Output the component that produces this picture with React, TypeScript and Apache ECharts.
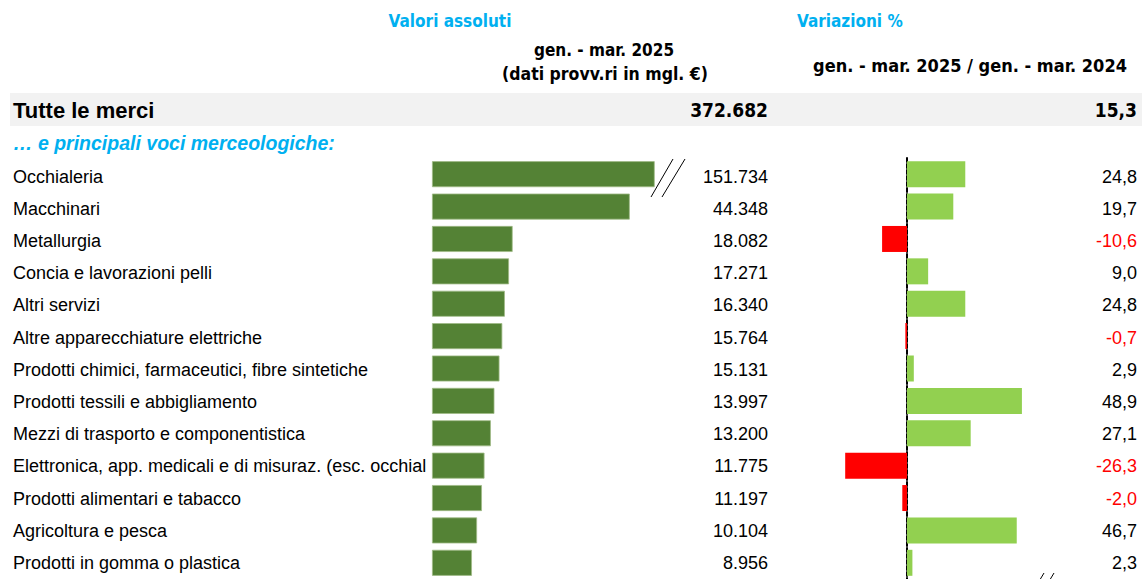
import React, { useEffect, useRef } from "react";
import * as echarts from "echarts";

const categories = [
  "Occhialeria",
  "Macchinari",
  "Metallurgia",
  "Concia e lavorazioni pelli",
  "Altri servizi",
  "Altre apparecchiature elettriche",
  "Prodotti chimici, farmaceutici, fibre sintetiche",
  "Prodotti tessili e abbigliamento",
  "Mezzi di trasporto e componentistica",
  "Elettronica, app. medicali e di misuraz. (esc. occhiali)",
  "Prodotti alimentari e tabacco",
  "Agricoltura e pesca",
  "Prodotti in gomma o plastica",
];
const absValues = [151734, 44348, 18082, 17271, 16340, 15764, 15131, 13997, 13200, 11775, 11197, 10104, 8956];
const pctValues = [24.8, 19.7, -10.6, 9.0, 24.8, -0.7, 2.9, 48.9, 27.1, -26.3, -2.0, 46.7, 2.3];
const totalLabel = "Tutte le merci";
const totalAbs = 372682;
const totalPct = 15.3;

const fmtAbs = (v: number) => String(v).replace(/\B(?=(\d{3})+(?!\d))/g, ".");
const fmtPct = (v: number) => v.toFixed(1).replace(".", ",");

const NARROW = "'Liberation Sans Narrow', 'Arial Narrow', 'DejaVu Sans Condensed', sans-serif";
const SANS = "'Liberation Sans', Arial, sans-serif";
const CYAN = "#00B0F0";

export default function App() {
  const ref = useRef<HTMLDivElement>(null);
  useEffect(() => {
    document.body.style.margin = "0";
    if (!ref.current) return;
    const chart = echarts.init(ref.current, null, { renderer: "svg" });
    const top = 158;
    const height = 422.5;
    const labelTop = top + 2.5;
    const option: any = {
      animation: false,
      graphic: [
        { type: "rect", shape: { x: 10, y: 93, width: 1132, height: 33 }, style: { fill: "#F2F2F2" }, z: -10 },
        { type: "text", x: 450, y: 21, style: { text: "Valori assoluti", fill: CYAN, font: `bold 17px ${NARROW}`, textAlign: "center", textVerticalAlign: "middle" } },
        { type: "text", x: 797, y: 21, style: { text: "Variazioni %", fill: CYAN, font: `bold 17px ${NARROW}`, textAlign: "left", textVerticalAlign: "middle" } },
        { type: "text", x: 604, y: 50, style: { text: "gen. - mar. 2025", fill: "#000", font: `bold 17px ${NARROW}`, textAlign: "center", textVerticalAlign: "middle" } },
        { type: "text", x: 605, y: 74, style: { text: "(dati provv.ri in mgl. €)", fill: "#000", font: `bold 17.5px ${NARROW}`, textAlign: "center", textVerticalAlign: "middle" } },
        { type: "text", x: 970, y: 65, style: { text: "gen. - mar. 2025 / gen. - mar. 2024", fill: "#000", font: `bold 18px ${NARROW}`, textAlign: "center", textVerticalAlign: "middle" } },
        { type: "text", x: 13, y: 110, style: { text: totalLabel, fill: "#000", font: `bold 22px ${SANS}`, textAlign: "left", textVerticalAlign: "middle" } },
        { type: "text", x: 768, y: 110, style: { text: fmtAbs(totalAbs), fill: "#000", font: `bold 19px ${NARROW}`, textAlign: "right", textVerticalAlign: "middle" } },
        { type: "text", x: 1137, y: 110, style: { text: fmtPct(totalPct), fill: "#000", font: `bold 19px ${NARROW}`, textAlign: "right", textVerticalAlign: "middle" } },
        { type: "text", x: 13, y: 143, style: { text: "… e principali voci merceologiche:", fill: CYAN, font: `italic bold 19.5px ${SANS}`, textAlign: "left", textVerticalAlign: "middle" } },
        { type: "line", shape: { x1: 651, y1: 197, x2: 673, y2: 159 }, style: { stroke: "#000", lineWidth: 1 } },
        { type: "line", shape: { x1: 662, y1: 197, x2: 685, y2: 159 }, style: { stroke: "#000", lineWidth: 1 } },
        { type: "line", shape: { x1: 1038, y1: 583, x2: 1044, y2: 573 }, style: { stroke: "#000", lineWidth: 1 } },
        { type: "line", shape: { x1: 1048, y1: 583, x2: 1054, y2: 573 }, style: { stroke: "#000", lineWidth: 1 } },
      ],
      grid: [
        { left: 432, top, width: 222.3, height },
        { left: 836.5, top, width: 188, height },
        { left: 432, top: labelTop, width: 222.3, height },
        { left: 836.5, top: labelTop, width: 188, height },
      ],
      xAxis: [
        { type: "value", gridIndex: 0, min: 0, max: 49850, show: false },
        { type: "value", gridIndex: 1, min: -30, max: 50, show: false },
        { type: "value", gridIndex: 2, min: 0, max: 1, show: false },
        { type: "value", gridIndex: 3, min: 0, max: 1, show: false },
      ],
      yAxis: [
        {
          type: "category", gridIndex: 0, data: categories, inverse: true, show: false,
        },
        {
          type: "category", gridIndex: 2, data: categories, inverse: true, position: "left",
          axisLine: { show: false, onZero: false }, axisTick: { show: false },
          axisLabel: {
            align: "left", margin: 419, width: 417, overflow: "truncate", ellipsis: "",
            fontSize: 18, color: "#000", fontFamily: SANS,
          },
        },
        {
          type: "category", gridIndex: 2, data: categories, inverse: true, position: "right",
          axisLine: { show: false, onZero: false }, axisTick: { show: false },
          axisLabel: {
            align: "right", margin: 113.7, fontSize: 18, color: "#000", fontFamily: SANS,
            formatter: (_v: string, i: number) => fmtAbs(absValues[i]),
          },
        },
        {
          type: "category", gridIndex: 1, data: categories, inverse: true, position: "left",
          axisLine: { show: true, onZero: true, lineStyle: { color: "#000", width: 2, type: [4, 2] } },
          axisTick: { show: false }, axisLabel: { show: false },
        },
        {
          type: "category", gridIndex: 3, data: categories, inverse: true, position: "right",
          axisLine: { show: false, onZero: false }, axisTick: { show: false },
          axisLabel: {
            align: "right", margin: 112.5, fontSize: 18, fontFamily: SANS,
            color: (_v: string, i: number) => (pctValues[i] < 0 ? "#FF0000" : "#000"),
            formatter: (_v: string, i: number) => fmtPct(pctValues[i]),
          },
        },
      ],
      series: [
        {
          type: "bar", xAxisIndex: 0, yAxisIndex: 0, data: absValues, barWidth: 26,
          itemStyle: { color: "#548235", borderColor: "#9fba87", borderWidth: 0.8 },
          clip: true,
        },
        {
          type: "bar", xAxisIndex: 1, yAxisIndex: 3, data: pctValues, barWidth: 26,
          itemStyle: { color: (p: any) => (p.value < 0 ? "#FF0000" : "#92D050") },
        },
      ],
    };
    chart.setOption(option);
    return () => chart.dispose();
  }, []);
  return <div ref={ref} style={{ width: 1142, height: 579 }} />;
}
